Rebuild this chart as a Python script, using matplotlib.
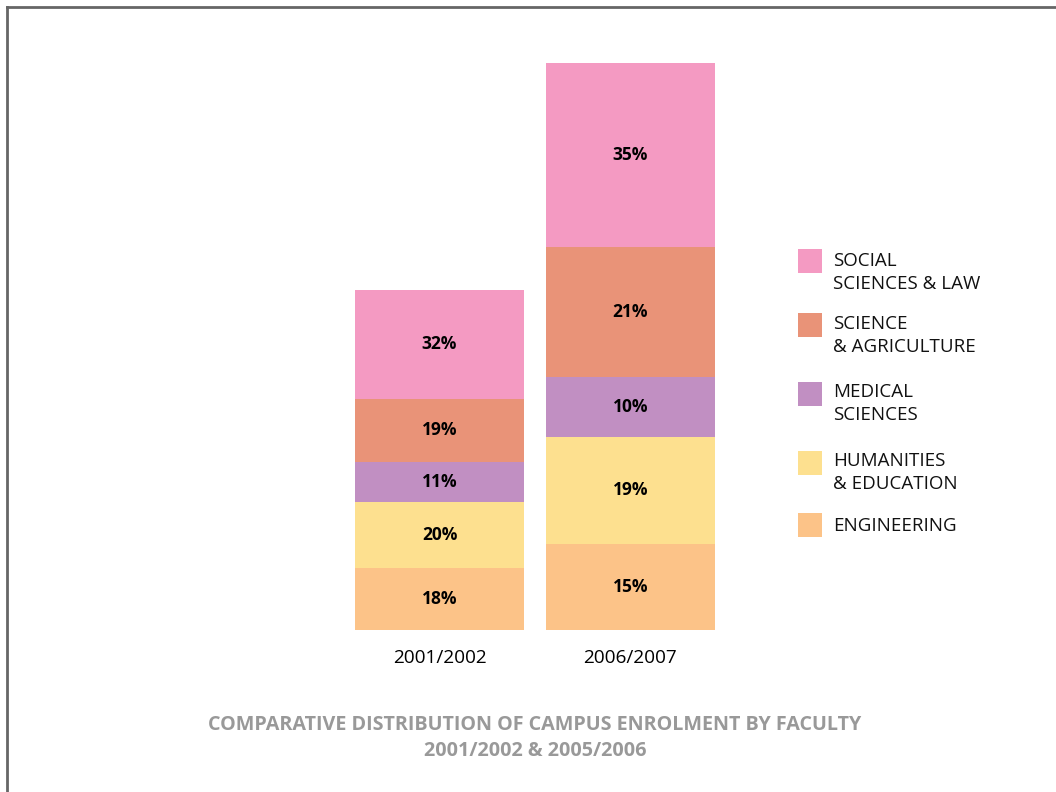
import matplotlib
matplotlib.use("Agg")
import matplotlib.pyplot as plt
from matplotlib.patches import Rectangle
from matplotlib.lines import Line2D

plt.rcParams['font.family'] = ['Open Sans', 'DejaVu Sans']

years = ['2001/2002', '2006/2007']
faculties = ['ENGINEERING', 'HUMANITIES\n& EDUCATION', 'MEDICAL\nSCIENCES',
             'SCIENCE\n& AGRICULTURE', 'SOCIAL\nSCIENCES & LAW']
# segment sizes (relative enrolment), bottom to top
enrol_0102 = [62, 66, 40, 63, 109]
enrol_0607 = [86, 107, 60, 130, 184]
pct_0102 = ['18%', '20%', '11%', '19%', '32%']
pct_0607 = ['15%', '19%', '10%', '21%', '35%']
colors = ['#FCC388', '#FDE08F', '#C18FC2', '#E99378', '#F49AC2']

W, H = 1056, 792
fig = plt.figure(figsize=(W / 100, H / 100), dpi=100)

# axes placed in pixel terms: bottom at y=630, top at y=50
ax = fig.add_axes([340 / W, 1 - 630 / H, 390 / W, 580 / H])
ax.set_ylim(0, 580)
ax.set_xlim(-0.521, 1.521)

xs = [0, 1]
for vals, labs, x in zip([enrol_0102, enrol_0607], [pct_0102, pct_0607], xs):
    bottom = 0
    for v, lab, c in zip(vals, labs, colors):
        ax.bar(x, v, bottom=bottom, width=0.885, color=c, linewidth=0)
        ax.text(x, bottom + v / 2, lab, ha='center', va='center',
                fontsize=12.5, fontweight='bold', color='black')
        bottom += v

ax.set_xticks(xs)
ax.set_xticklabels(years, fontsize=13.7)
ax.tick_params(axis='x', length=0, pad=14)
ax.set_yticks([])
for s in ax.spines.values():
    s.set_visible(False)

# legend drawn by hand, top to bottom
leg_sq_top = [249, 313, 382, 451, 513]
leg_txt_y = [260, 323, 391, 460, 525]
for i, (lab, c) in enumerate(zip(faculties[::-1], colors[::-1])):
    fig.patches.append(Rectangle((798 / W, 1 - (leg_sq_top[i] + 24) / H), 24 / W, 24 / H,
                                 transform=fig.transFigure, color=c, lw=0))
    fig.text(833 / W, 1 - (leg_txt_y[i] - 8) / H, lab, ha='left', va='top',
             fontsize=13.5, linespacing=1.38, color='#111111')

# title
fig.text(535 / W, 1 - 725 / H, 'COMPARATIVE DISTRIBUTION OF CAMPUS ENROLMENT BY FACULTY',
         ha='center', va='center', fontsize=14.2, fontweight='bold', color='#999999')
fig.text(535 / W, 1 - 751 / H, '2001/2002 & 2005/2006',
         ha='center', va='center', fontsize=14.2, fontweight='bold', color='#999999')

# frame lines
fig.add_artist(Line2D([7 / W, 7 / W], [0, 1 - 7 / H], color='#666666', lw=2))
fig.add_artist(Line2D([7 / W, 1], [1 - 7 / H, 1 - 7 / H], color='#666666', lw=2))

fig.savefig('out.png', dpi=100)
